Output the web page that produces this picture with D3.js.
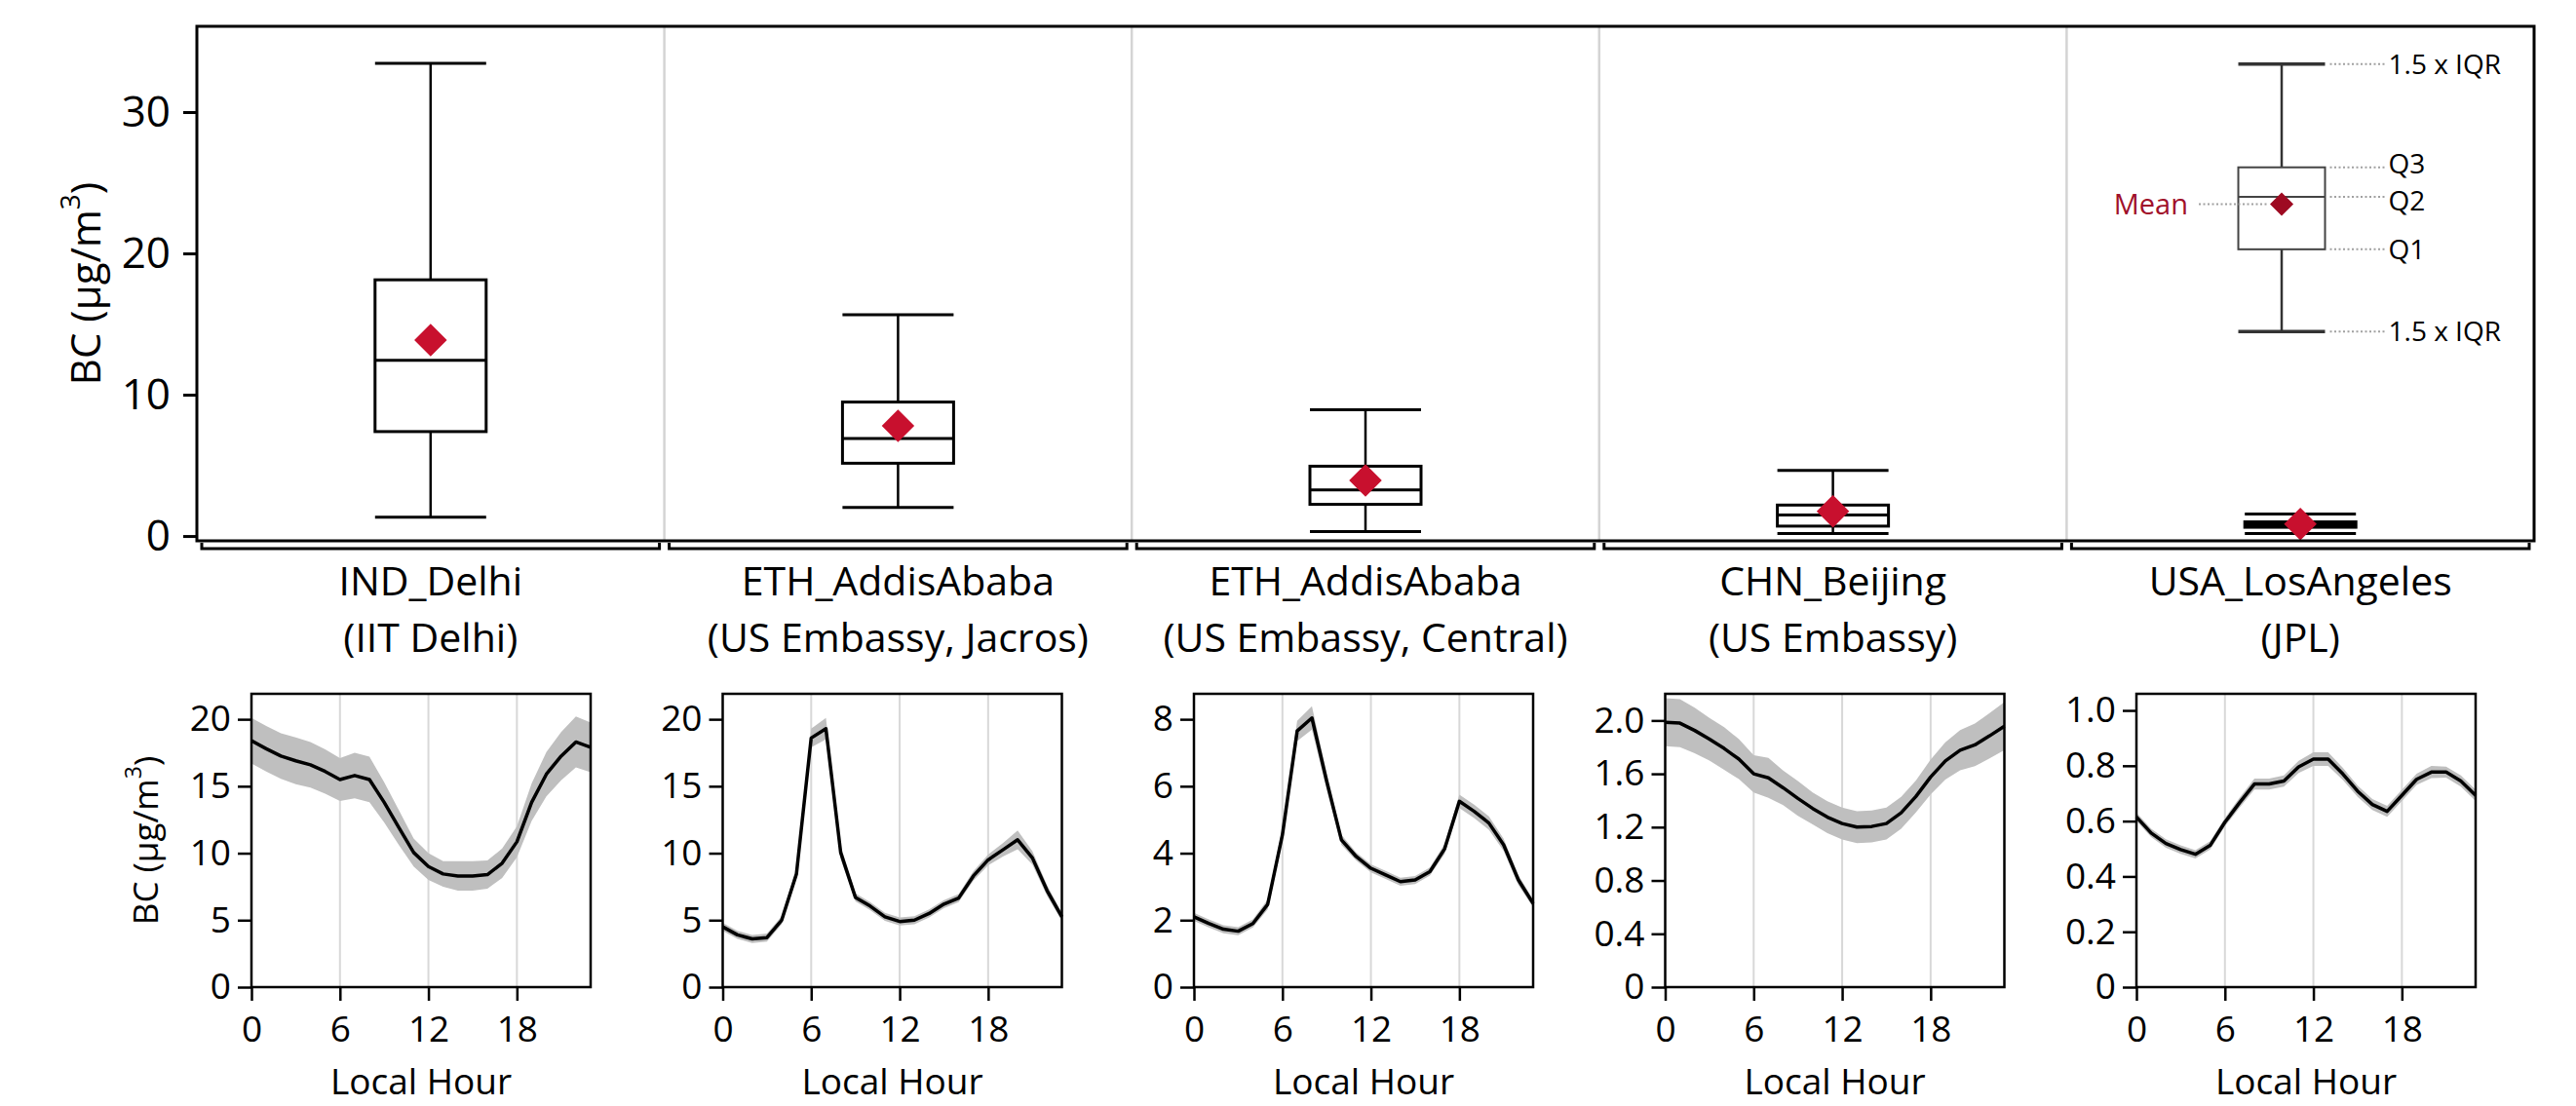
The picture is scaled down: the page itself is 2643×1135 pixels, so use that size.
<!DOCTYPE html>
<html>
<head>
<meta charset="utf-8">
<script src="https://d3js.org/d3.v7.min.js"></script>
<style>
  body { margin: 0; background: #fff; }
  svg text { font-family: 'Open Sans', sans-serif; fill: #000; }
</style>
</head>
<body>
<script>
// ---- data ----
const sites = ['IND_Delhi', 'ETH_AddisAbaba', 'ETH_AddisAbaba ', 'CHN_Beijing', 'USA_LosAngeles'];
const siteNames = ['IND_Delhi', 'ETH_AddisAbaba', 'ETH_AddisAbaba', 'CHN_Beijing', 'USA_LosAngeles'];
const siteNotes = ['(IIT Delhi)', '(US Embassy, Jacros)', '(US Embassy, Central)', '(US Embassy)', '(JPL)'];

// box plot stats (µg/m3)
const whiskerLow  = [1.34, 2.03, 0.31, 0.18, 0.18];
const q1          = [7.39, 5.15, 2.24, 0.70, 0.62];
const median      = [12.44, 6.90, 3.27, 1.49, 0.80];
const q3          = [18.13, 9.48, 4.94, 2.19, 1.00];
const whiskerHigh = [33.45, 15.66, 8.94, 4.64, 1.55];
const means       = [13.86, 7.80, 3.94, 1.75, 0.85];

// schematic key drawn in the last panel
const keyLabels = ['1.5 x IQR', 'Q3', 'Q2', 'Q1', '1.5 x IQR'];
const keyValues = [33.4, 26.09, 24.0, 20.29, 14.47];
const keyMean = 23.49;

// diurnal cycles, hour 0..23
const hours = [0,1,2,3,4,5,6,7,8,9,10,11,12,13,14,15,16,17,18,19,20,21,22,23];
const delhiMean = [18.4,17.8,17.25,16.9,16.6,16.1,15.5,15.8,15.5,13.8,11.9,10.05,9.0,8.45,8.3,8.3,8.4,9.25,10.85,13.8,15.9,17.25,18.3,17.9];
const delhiErr  = [1.7,1.7,1.7,1.75,1.7,1.65,1.6,1.7,1.7,1.5,1.3,1.05,1.0,0.95,1.1,1.1,1.05,1.1,1.15,1.4,1.65,1.8,1.9,1.85];
const jacrosMean = [4.5,3.9,3.6,3.7,5.0,8.45,18.6,19.3,10.05,6.7,6.05,5.25,4.9,5.0,5.5,6.2,6.65,8.3,9.5,10.25,11.0,9.65,7.2,5.25];
const jacrosErr  = [0.3,0.3,0.3,0.3,0.3,0.35,0.7,0.8,0.5,0.3,0.3,0.3,0.3,0.3,0.3,0.3,0.3,0.35,0.4,0.5,0.7,0.5,0.4,0.3];
const centralMean = [2.1,1.9,1.73,1.67,1.9,2.47,4.55,7.65,8.04,6.15,4.4,3.9,3.55,3.35,3.15,3.2,3.45,4.13,5.55,5.25,4.9,4.25,3.2,2.5];
const centralErr  = [0.12,0.12,0.12,0.12,0.12,0.15,0.2,0.3,0.35,0.25,0.15,0.12,0.12,0.12,0.12,0.12,0.12,0.15,0.2,0.2,0.2,0.18,0.15,0.12];
const beijingMean = [1.987,1.98,1.925,1.86,1.79,1.71,1.60,1.57,1.495,1.415,1.34,1.275,1.227,1.20,1.205,1.227,1.307,1.43,1.576,1.697,1.777,1.817,1.885,1.957];
const beijingErr  = [0.18,0.18,0.17,0.16,0.16,0.15,0.14,0.15,0.13,0.13,0.12,0.12,0.12,0.12,0.12,0.12,0.12,0.12,0.13,0.14,0.15,0.16,0.17,0.18];
const laMean = [0.615,0.557,0.519,0.497,0.48,0.512,0.596,0.667,0.734,0.734,0.745,0.796,0.824,0.824,0.77,0.708,0.66,0.635,0.693,0.751,0.777,0.777,0.745,0.693];
const laErr  = [0.015,0.015,0.015,0.015,0.015,0.015,0.015,0.018,0.02,0.02,0.02,0.022,0.025,0.025,0.022,0.02,0.02,0.02,0.02,0.02,0.022,0.02,0.02,0.02];

const diurnalMean = [delhiMean, jacrosMean, centralMean, beijingMean, laMean];
const diurnalErr  = [delhiErr, jacrosErr, centralErr, beijingErr, laErr];
const yMax   = [21.9, 21.9, 8.76, 2.2, 1.06];
const yTicks = [[0,5,10,15,20], [0,5,10,15,20], [0,2,4,6,8], [0,0.4,0.8,1.2,1.6,2.0], [0,0.2,0.4,0.6,0.8,1.0]];
const hourTicks = [0, 6, 12, 18];

// ---- layout ----
const W = 2643, H = 1135;
const meanRed = '#c8102e', keyRed = '#a0102a';
const svg = d3.select('body').append('svg').attr('width', W).attr('height', H);

const frame = {l: 202, r: 2600, t: 27, b: 555};
const x = d3.scaleBand().domain(sites).range([frame.l, frame.r]);
const y = d3.scaleLinear().domain([-0.34, 36.07]).range([frame.b, frame.t]);
const boxW = 114;

// separators between groups
svg.append('g').selectAll('line').data(sites.slice(1)).join('line')
    .attr('x1', d => x(d)).attr('x2', d => x(d))
    .attr('y1', frame.t).attr('y2', frame.b)
    .attr('stroke', '#d4d4d4').attr('stroke-width', 2.5);

// y axis
const yAxis = svg.append('g').attr('transform', `translate(${frame.l},0)`)
    .call(d3.axisLeft(y).tickValues([0, 10, 20, 30]).tickSize(14).tickPadding(13));
yAxis.select('.domain').remove();
yAxis.selectAll('line').attr('stroke-width', 3);
yAxis.selectAll('text').attr('font-size', 44).attr('font-family', "'Open Sans', sans-serif");

svg.append('text')
    .attr('transform', `translate(88,${(frame.t + frame.b) / 2}) rotate(-90)`)
    .attr('text-anchor', 'middle').attr('dy', '0.35em').attr('font-size', 42)
    .call(t => {
        t.append('tspan').text('BC (µg/m');
        t.append('tspan').attr('font-size', 28).attr('dy', '-0.75em').text('3');
        t.append('tspan').attr('dy', '0.5em').text(')');
    });

// boxes
const boxes = svg.append('g').selectAll('g').data(sites).join('g')
    .attr('transform', d => `translate(${x(d) + x.bandwidth() / 2},0)`);

boxes.append('line').attr('stroke', '#000').attr('stroke-width', 2.5)
    .attr('y1', (d, i) => y(whiskerHigh[i])).attr('y2', (d, i) => y(q3[i]));
boxes.append('line').attr('stroke', '#000').attr('stroke-width', 2.5)
    .attr('y1', (d, i) => y(q1[i])).attr('y2', (d, i) => y(whiskerLow[i]));
boxes.append('line').attr('stroke', '#000').attr('stroke-width', 3)
    .attr('x1', -boxW / 2).attr('x2', boxW / 2)
    .attr('y1', (d, i) => y(whiskerHigh[i])).attr('y2', (d, i) => y(whiskerHigh[i]));
boxes.append('line').attr('stroke', '#000').attr('stroke-width', 3)
    .attr('x1', -boxW / 2).attr('x2', boxW / 2)
    .attr('y1', (d, i) => y(whiskerLow[i])).attr('y2', (d, i) => y(whiskerLow[i]));
boxes.append('rect').attr('fill', '#fff').attr('stroke', '#000').attr('stroke-width', 3)
    .attr('x', -boxW / 2).attr('width', boxW)
    .attr('y', (d, i) => y(q3[i])).attr('height', (d, i) => y(q1[i]) - y(q3[i]));
boxes.append('line').attr('stroke', '#000').attr('stroke-width', 3)
    .attr('x1', -boxW / 2).attr('x2', boxW / 2)
    .attr('y1', (d, i) => y(median[i])).attr('y2', (d, i) => y(median[i]));
boxes.append('path').attr('fill', meanRed)
    .attr('d', d3.symbol(d3.symbolSquare, 560))
    .attr('transform', (d, i) => `translate(0,${y(means[i])}) rotate(45)`);

// key in the last panel
const lastBand = sites[sites.length - 1];
const keyX = x(lastBand) + x.bandwidth() * 0.46;
const keyW = 89;
const key = svg.append('g').attr('transform', `translate(${keyX},0)`);
key.append('line').attr('stroke', '#333').attr('stroke-width', 2.5)
    .attr('y1', y(keyValues[0])).attr('y2', y(keyValues[1]));
key.append('line').attr('stroke', '#333').attr('stroke-width', 2.5)
    .attr('y1', y(keyValues[3])).attr('y2', y(keyValues[4]));
key.append('rect').attr('fill', '#fff').attr('stroke', '#444').attr('stroke-width', 2)
    .attr('x', -keyW / 2).attr('width', keyW)
    .attr('y', y(keyValues[1])).attr('height', y(keyValues[3]) - y(keyValues[1]));
key.selectAll('line.cap').data([0, 4]).join('line').attr('class', 'cap')
    .attr('stroke', '#333').attr('stroke-width', 3.5)
    .attr('x1', -keyW / 2).attr('x2', keyW / 2)
    .attr('y1', i => y(keyValues[i])).attr('y2', i => y(keyValues[i]));
key.append('line').attr('stroke', '#444').attr('stroke-width', 2)
    .attr('x1', -keyW / 2).attr('x2', keyW / 2)
    .attr('y1', y(keyValues[2])).attr('y2', y(keyValues[2]));
key.selectAll('line.lead').data(keyValues).join('line').attr('class', 'lead')
    .attr('stroke', '#a0a0a0').attr('stroke-width', 2).attr('stroke-dasharray', '2,2.5')
    .attr('x1', keyW / 2 + 5).attr('x2', keyW / 2 + 62)
    .attr('y1', d => y(d)).attr('y2', d => y(d));
// Q3 and Q2 sit close together: nudge their labels apart a little
const nudge = l => l === 'Q3' ? -4 : l === 'Q2' ? 4 : 0;
key.selectAll('text.klab').data(keyLabels).join('text').attr('class', 'klab')
    .attr('x', keyW / 2 + 65).attr('y', (d, i) => y(keyValues[i]) + nudge(d))
    .attr('dy', '0.35em').attr('font-size', 28).text(d => d);
key.append('line').attr('stroke', '#a0a0a0').attr('stroke-width', 2).attr('stroke-dasharray', '2,2.5')
    .attr('x1', -85).attr('x2', -14).attr('y1', y(keyMean)).attr('y2', y(keyMean));
key.append('text').attr('x', -96).attr('y', y(keyMean)).attr('dy', '0.35em')
    .attr('text-anchor', 'end').attr('font-size', 29).style('fill', keyRed).text('Mean');
key.append('path').attr('fill', '#9e0b22')
    .attr('d', d3.symbol(d3.symbolSquare, 290))
    .attr('transform', `translate(0,${y(keyMean)}) rotate(45)`);

// frame
svg.append('rect').attr('x', frame.l).attr('y', frame.t)
    .attr('width', frame.r - frame.l).attr('height', frame.b - frame.t)
    .attr('fill', 'none').attr('stroke', '#000').attr('stroke-width', 3);

// group brackets under the frame
svg.append('g').selectAll('path').data(sites).join('path')
    .attr('fill', 'none').attr('stroke', '#000').attr('stroke-width', 3)
    .attr('d', d => `M${x(d) + 5},${frame.b + 2}V${frame.b + 8}H${x(d) + x.bandwidth() - 5}V${frame.b + 2}`);

// group labels
const labels = svg.append('g').selectAll('text').data(sites).join('text')
    .attr('text-anchor', 'middle').attr('font-size', 41);
labels.append('tspan').attr('x', d => x(d) + x.bandwidth() / 2).attr('y', 611)
    .text((d, i) => siteNames[i]);
labels.append('tspan').attr('x', d => x(d) + x.bandwidth() / 2).attr('y', 669)
    .text((d, i) => siteNotes[i]);

// ---- diurnal panels ----
const small = {l0: 258, step: 483.5, w: 348, t: 712, b: 1013};

sites.forEach((s, i) => {
    const left = small.l0 + small.step * i;
    const hx = d3.scaleLinear().domain([0, 23]).range([left, left + small.w]);
    const hy = d3.scaleLinear().domain([0, yMax[i]]).range([small.b, small.t]);
    const g = svg.append('g');
    const pts = hours.map((h, k) => ({h, m: diurnalMean[i][k], e: diurnalErr[i][k]}));

    g.selectAll('line.grid').data(hourTicks.slice(1)).join('line').attr('class', 'grid')
        .attr('x1', d => hx(d)).attr('x2', d => hx(d))
        .attr('y1', small.t).attr('y2', small.b)
        .attr('stroke', '#d8d8d8').attr('stroke-width', 2);

    g.append('path').datum(pts).attr('fill', '#bfbfbf')
        .attr('d', d3.area().x(d => hx(d.h)).y0(d => hy(d.m - d.e)).y1(d => hy(d.m + d.e)));
    g.append('path').datum(pts).attr('fill', 'none').attr('stroke', '#000')
        .attr('stroke-width', 3.5).attr('stroke-linejoin', 'round')
        .attr('d', d3.line().x(d => hx(d.h)).y(d => hy(d.m)));

    g.append('rect').attr('x', left).attr('y', small.t)
        .attr('width', small.w).attr('height', small.b - small.t)
        .attr('fill', 'none').attr('stroke', '#000').attr('stroke-width', 2.5);

    const fmt = i >= 3 ? (d => d === 0 ? '0' : d.toFixed(1)) : d3.format('d');
    const ya = g.append('g').attr('transform', `translate(${left},0)`)
        .call(d3.axisLeft(hy).tickValues(yTicks[i]).tickFormat(fmt).tickSize(14).tickPadding(7));
    const xa = g.append('g').attr('transform', `translate(0,${small.b})`)
        .call(d3.axisBottom(hx).tickValues(hourTicks).tickSize(14).tickPadding(16));
    [ya, xa].forEach(a => {
        a.select('.domain').remove();
        a.selectAll('line').attr('stroke-width', 2.5);
        a.selectAll('text').attr('font-size', 37).attr('font-family', "'Open Sans', sans-serif");
    });

    g.append('text').attr('x', left + small.w / 2).attr('y', 1123)
        .attr('text-anchor', 'middle').attr('font-size', 37).text('Local Hour');

    if (i === 0) {
        g.append('text')
            .attr('transform', `translate(150,${(small.t + small.b) / 2}) rotate(-90)`)
            .attr('text-anchor', 'middle').attr('dy', '0.35em').attr('font-size', 35)
            .call(t => {
                t.append('tspan').text('BC (µg/m');
                t.append('tspan').attr('font-size', 23).attr('dy', '-0.75em').text('3');
                t.append('tspan').attr('dy', '0.5em').text(')');
            });
    }
});
</script>
</body>
</html>
